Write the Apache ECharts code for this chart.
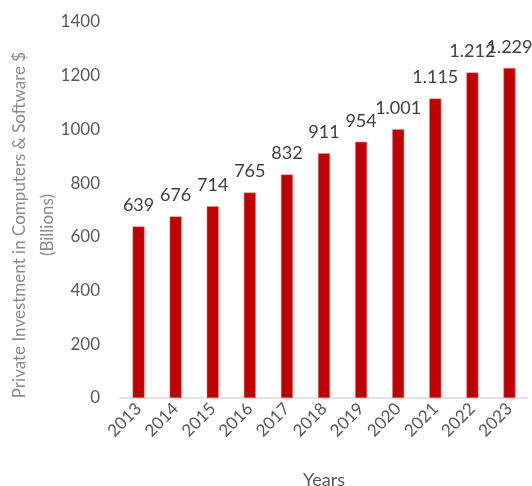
<!DOCTYPE html>
<html><head><meta charset="utf-8">
<script src="https://cdn.jsdelivr.net/npm/echarts@6/dist/echarts.min.js"></script>
<style>html,body{margin:0;padding:0;background:#fff}#c{width:532px;height:486px}</style>
</head><body><div id="c"></div>
<script>
const years = ['2013','2014','2015','2016','2017','2018','2019','2020','2021','2022','2023'];
const values = [639, 676, 714, 765, 832, 911, 954, 1001, 1115, 1212, 1229];
const valueLabels = ['639','676','714','765','832','911','954','1.001','1.115','1.212','1.229'];
const yTicks = [0, 200, 400, 600, 800, 1000, 1200, 1400];
const yTitle = 'Private Investment in Computers & Software $\n(Billions)';
const xTitle = 'Years';

const font = 'Lato';
const chart = echarts.init(document.getElementById('c'));
chart.setOption({
  animation: false,
  textStyle: {fontFamily: font},
  grid: {left: 120, right: 4, top: 22, bottom: 88, containLabel: false, outerBoundsMode: 'none'},
  graphic: [{
    type: 'text', x: 34, y: 225, rotation: Math.PI / 2,
    style: {text: yTitle, fill: '#8c8c8c', font: '17px Lato', align: 'center', verticalAlign: 'middle', lineHeight: 28}
  }],
  xAxis: {
    type: 'category', data: years,
    name: xTitle, nameLocation: 'middle', nameGap: 73,
    nameTextStyle: {fontSize: 18, color: '#595959', fontFamily: font},
    axisLine: {lineStyle: {color: '#d9d9d9', width: 1.5}},
    axisTick: {show: false},
    axisLabel: {rotate: 45, fontSize: 17, color: '#595959', margin: 8, fontFamily: font}
  },
  yAxis: {
    type: 'value', min: yTicks[0], max: yTicks[yTicks.length-1], interval: 200,
    splitLine: {show: false},
    axisLine: {show: false}, axisTick: {show: false},
    axisLabel: {fontSize: 17, color: '#595959', margin: 20, fontFamily: font,
      formatter: v => String(v)}
  },
  series: [{
    type: 'bar', data: values, barWidth: 12,
    itemStyle: {color: '#c00000', borderColor: '#e88a8a', borderWidth: 0.5},
    label: {show: true, position: 'top', distance: 12, fontSize: 18, color: '#404040', fontFamily: font,
      formatter: p => valueLabels[p.dataIndex]}
  }]
});
</script></body></html>
